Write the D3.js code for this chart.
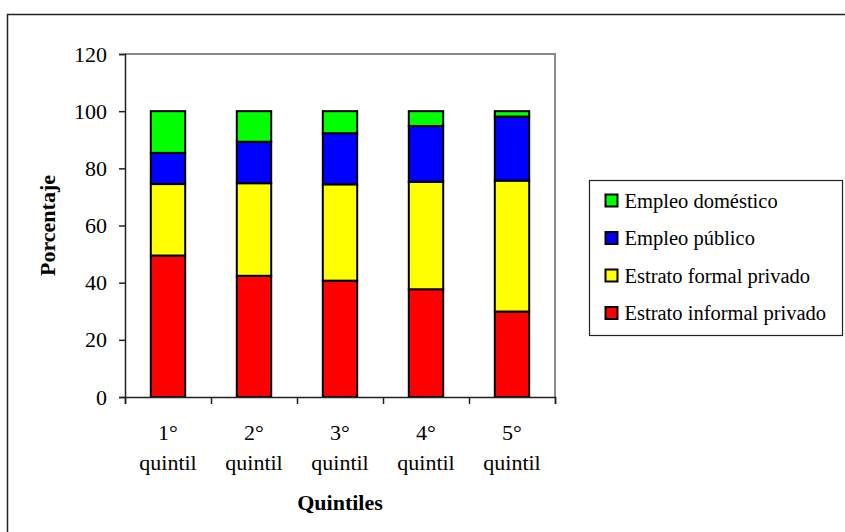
<!DOCTYPE html>
<html lang="es">
<head>
  <meta charset="UTF-8">
  <title>Porcentaje por quintil</title>
  <style>
    body { margin: 0; background: #fff; }
    text { font-family: "Liberation Serif", "Times New Roman", serif; fill: #000; }
  </style>
</head>
<body>
<script src="https://cdn.jsdelivr.net/npm/d3@7"></script>
<script>
  var quintiles = ["1°|quintil", "2°|quintil", "3°|quintil", "4°|quintil", "5°|quintil"];
  var informal = [49.5, 42.4, 40.7, 37.7, 29.9];
  var formal = [25.0, 32.4, 33.7, 37.6, 45.8];
  var publico = [10.9, 14.5, 17.9, 19.5, 22.4];
  var domestico = [14.6, 10.7, 7.7, 5.2, 1.9];
  var yTicks = [0, 20, 40, 60, 80, 100, 120];
  var seriesNames = ["Estrato informal privado", "Estrato formal privado", "Empleo público", "Empleo doméstico"];
  var seriesColors = ["#ff0000", "#ffff00", "#0000ff", "#00ff00"];

  var W = 845, H = 532;
  var margin = {left: 125, top: 54, right: 290, bottom: 135};
  var width = W - margin.left - margin.right,
      height = H - margin.top - margin.bottom;

  var rows = quintiles.map(function(q, i) {
    return {q: q, s0: informal[i], s1: formal[i], s2: publico[i], s3: domestico[i]};
  });
  var stack = d3.stack().keys(["s0", "s1", "s2", "s3"])(rows);

  var svg = d3.select("body").append("svg")
    .attr("width", W).attr("height", H);

  // outer chart frame (runs off the right and bottom edge)
  svg.append("rect")
    .attr("x", 7.5).attr("y", 14.5)
    .attr("width", W + 20).attr("height", H + 20)
    .attr("fill", "none").attr("stroke", "#222").attr("stroke-width", 1.5);

  var g = svg.append("g")
    .attr("transform", "translate(" + margin.left + "," + margin.top + ")");

  var x = d3.scaleBand().domain(quintiles).range([0, width]).paddingInner(0.6).paddingOuter(0.3);
  var xCat = d3.scaleLinear().domain([0, quintiles.length]).range([0, width]);
  var y = d3.scaleLinear().domain([0, 120]).range([height, 0]);

  // plot area border (gray top/right)
  g.append("path")
    .attr("d", "M0,0H" + width + "V" + height)
    .attr("fill", "none").attr("stroke", "#888").attr("stroke-width", 2);

  g.selectAll(".serie")
    .data(stack)
    .enter().append("g")
    .attr("fill", function(d, i) { return seriesColors[i]; })
    .selectAll("rect")
    .data(function(d) { return d; })
    .enter().append("rect")
    .attr("x", function(d) { return x(d.data.q); })
    .attr("y", function(d) { return y(d[1]); })
    .attr("width", x.bandwidth())
    .attr("height", function(d) { return y(d[0]) - y(d[1]); })
    .attr("stroke", "#000").attr("stroke-width", 2);

  // y axis
  var yAxis = g.append("g")
    .call(d3.axisLeft(y).tickValues(yTicks).tickSize(6).tickPadding(12));
  yAxis.select(".domain").attr("stroke", "#222").attr("stroke-width", 1.5);
  yAxis.selectAll(".tick line").attr("stroke", "#222").attr("stroke-width", 1.5);
  yAxis.selectAll("text").style("font-size", "22px").attr("fill", "#000")
    .style("font-family", "Liberation Serif");

  // x axis: ticks at category boundaries
  var xAxis = g.append("g")
    .attr("transform", "translate(0," + height + ")")
    .call(d3.axisBottom(xCat).tickValues(d3.range(quintiles.length + 1)).tickSize(7).tickFormat(""));
  xAxis.select(".domain").attr("stroke", "#222").attr("stroke-width", 1.5);
  xAxis.selectAll(".tick line").attr("stroke", "#222").attr("stroke-width", 1.5);

  var xl = g.selectAll(".xlab")
    .data(quintiles)
    .enter().append("text")
    .attr("class", "xlab")
    .attr("text-anchor", "middle")
    .style("font-size", "22px")
    .attr("transform", function(d) { return "translate(" + (x(d) + x.bandwidth() / 2) + "," + (height + 43) + ")"; });
  xl.append("tspan").attr("x", 0).attr("y", 0).text(function(d) { return d.split("|")[0]; });
  xl.append("tspan").attr("x", 0).attr("y", 30).text(function(d) { return d.split("|")[1]; });

  // axis titles
  g.append("text")
    .attr("x", width / 2).attr("y", height + 113)
    .attr("text-anchor", "middle")
    .style("font-size", "22px").style("font-weight", "bold")
    .text("Quintiles");

  g.append("text")
    .attr("transform", "translate(-70," + (height / 2) + ") rotate(-90)")
    .attr("text-anchor", "middle")
    .style("font-size", "22px").style("font-weight", "bold")
    .text("Porcentaje");

  // legend
  var legend = svg.append("g").attr("transform", "translate(589.5,180.5)");
  legend.append("rect")
    .attr("width", 253).attr("height", 155)
    .attr("fill", "#fff").attr("stroke", "#222").attr("stroke-width", 1.2);

  var order = [3, 2, 1, 0];
  var item = legend.selectAll(".item")
    .data(order)
    .enter().append("g")
    .attr("transform", function(d, i) { return "translate(16," + (20 + i * 37.5) + ")"; });
  item.append("rect")
    .attr("x", 0).attr("y", -6).attr("width", 12).attr("height", 12)
    .attr("fill", function(d) { return seriesColors[d]; })
    .attr("stroke", "#000").attr("stroke-width", 2);
  item.append("text")
    .attr("x", 19).attr("y", 7)
    .style("font-size", "20.5px")
    .text(function(d) { return seriesNames[d]; });
</script>
</body>
</html>
